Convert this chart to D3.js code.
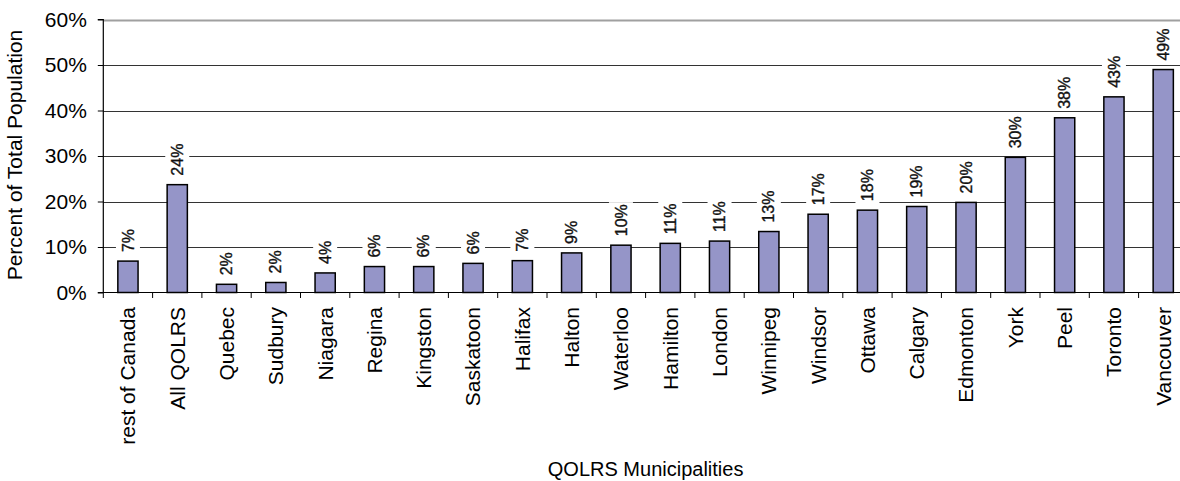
<!DOCTYPE html>
<html>
<head>
<meta charset="utf-8">
<script src="https://cdn.jsdelivr.net/npm/d3@7"></script>
<style>
  html, body { margin: 0; padding: 0; background: #fff; }
  svg { display: block; font-family: "Liberation Sans", Arial, sans-serif; }
</style>
</head>
<body>
<svg id="chart" width="1180" height="481"></svg>
<script>
// Municipalities, ordered as plotted
const categories = [
  "rest of Canada", "All QOLRS", "Quebec", "Sudbury", "Niagara", "Regina",
  "Kingston", "Saskatoon", "Halifax", "Halton", "Waterloo", "Hamilton",
  "London", "Winnipeg", "Windsor", "Ottawa", "Calgary", "Edmonton",
  "York", "Peel", "Toronto", "Vancouver"
];

// Share of total population (percent)
const values = [
  6.9, 23.7, 1.8, 2.2, 4.3, 5.7,
  5.7, 6.4, 7.0, 8.7, 10.4, 10.8,
  11.3, 13.4, 17.2, 18.1, 18.9, 19.8,
  29.7, 38.4, 43.0, 49.0
];

// Y axis tick values (percent)
const yTicks = [0, 10, 20, 30, 40, 50, 60];

const yTitle = "Percent of Total Population";
const xTitle = "QOLRS Municipalities";

const svg = d3.select("#chart");

const plotLeft = 103.3, plotTop = 19.5, plotBottom = 292.5;
const step = 49.3;
const plotRight = plotLeft + step * categories.length;

const x = d3.scaleBand().domain(categories).range([plotLeft, plotRight]).padding(0);
const y = d3.scaleLinear().domain([0, 60]).range([plotBottom, plotTop]);

// Horizontal gridlines, snapped to whole pixels
svg.append("g")
  .selectAll("line")
  .data(yTicks.filter(t => t > 0))
  .join("line")
  .attr("x1", plotLeft).attr("x2", plotRight)
  .attr("y1", d => Math.round(y(d)) + 0.5).attr("y2", d => Math.round(y(d)) + 0.5)
  .attr("stroke", d => d === 60 ? "#a0a0a0" : "#333")
  .attr("stroke-width", d => d === 60 ? 2 : 1);

// Bars
const barW = x.bandwidth() * 0.41;
svg.append("g")
  .selectAll("rect")
  .data(values)
  .join("rect")
  .attr("x", (d, i) => x(categories[i]) + (x.bandwidth() - barW) / 2)
  .attr("y", d => y(d))
  .attr("width", barW)
  .attr("height", d => y(0) - y(d))
  .attr("fill", "#9595c8")
  .attr("stroke", "#000")
  .attr("stroke-width", 1.5);

// Y axis
const yAxis = d3.axisLeft(y)
  .tickValues(yTicks)
  .tickSize(5.5)
  .tickPadding(11)
  .tickFormat(d => d + "%");
const gy = svg.append("g").attr("transform", `translate(${plotLeft},0)`).call(yAxis);
gy.select(".domain").attr("stroke", "#000").attr("stroke-width", 1.2)
  .attr("d", `M-5.5,${plotTop}H0V${plotBottom}H-5.5`);
gy.selectAll(".tick line").attr("stroke", "#000");
gy.selectAll(".tick text")
  .attr("font-size", 21)
  .attr("fill", "#000")
  .attr("font-family", "'Liberation Sans', Arial, sans-serif");

// X axis: ticks at category boundaries
const gx = svg.append("g");
gx.append("line")
  .attr("x1", plotLeft).attr("x2", plotRight)
  .attr("y1", plotBottom).attr("y2", plotBottom)
  .attr("stroke", "#000").attr("stroke-width", 1.2);
gx.selectAll("line.tk")
  .data(categories)
  .join("line")
  .attr("class", "tk")
  .attr("x1", d => x(d)).attr("x2", d => x(d))
  .attr("y1", plotBottom).attr("y2", plotBottom + 5.5)
  .attr("stroke", "#000");

// Category labels, rotated
gx.selectAll("text")
  .data(categories)
  .join("text")
  .attr("transform", d => `translate(${x(d) + x.bandwidth() / 2},307) rotate(-90)`)
  .attr("text-anchor", "end")
  .attr("dy", "0.35em")
  .attr("font-size", 21)
  .attr("fill", "#000")
  .text(d => d);

// Value labels above bars, on a white backing
const lab = svg.append("g");
const labelFs = 16;
values.forEach((v, i) => {
  const cx = x(categories[i]) + x.bandwidth() / 2;
  const by = y(v) - 9;
  const t = lab.append("text")
    .attr("transform", `translate(${cx},${by}) rotate(-90)`)
    .attr("text-anchor", "start")
    .attr("dy", "0.35em")
    .attr("font-size", labelFs)
    .attr("fill", "#111")
    .attr("stroke", "#111")
    .attr("stroke-width", 0.35)
    .text(Math.round(v) + "%");
  const len = t.node().getComputedTextLength();
  lab.insert("rect", "text")
    .attr("x", cx - 12)
    .attr("y", by - len - 2)
    .attr("width", 24)
    .attr("height", len + 4)
    .attr("fill", "#fff");
});

// Axis titles
svg.append("text")
  .attr("transform", `translate(22,155) rotate(-90)`)
  .attr("text-anchor", "middle")
  .attr("font-size", 21)
  .attr("fill", "#000")
  .text(yTitle);

svg.append("text")
  .attr("x", (plotLeft + plotRight) / 2)
  .attr("y", 476)
  .attr("text-anchor", "middle")
  .attr("font-size", 20)
  .attr("fill", "#000")
  .text(xTitle);
</script>
</body>
</html>
